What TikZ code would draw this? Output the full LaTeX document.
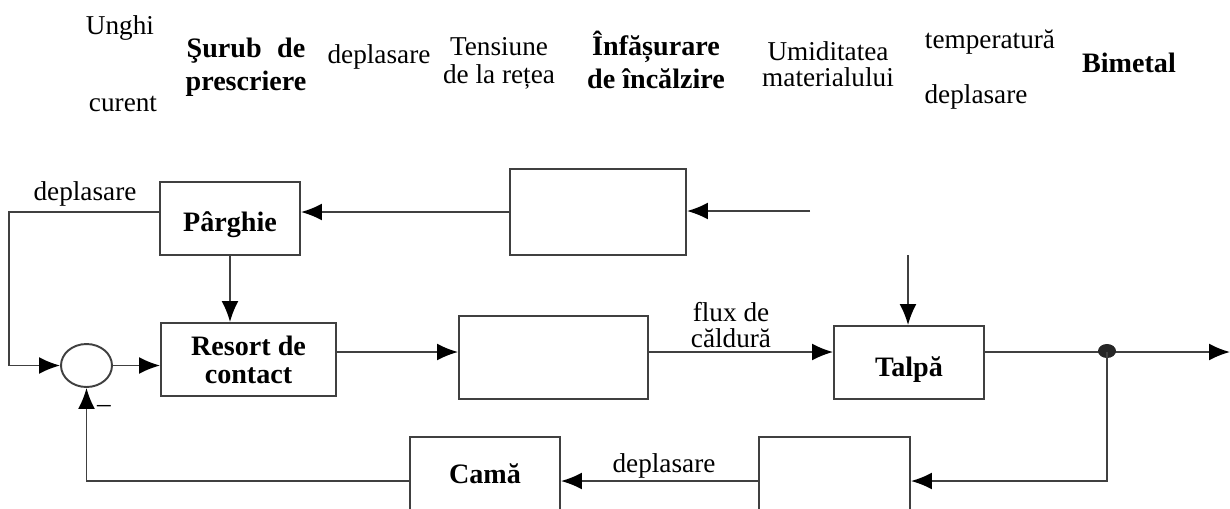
\documentclass[tikz,border=0pt]{standalone}
\usepackage{fontspec}
\setmainfont{Liberation Serif}
\usepackage{tikz}
\usetikzlibrary{arrows.meta, shapes.geometric, calc}

\tikzset{
	bloc/.style={draw=black!75, line width=1.1pt, inner sep=0pt},
	txt/.style={font=\fontsize{15.5}{16}\selectfont, align=center, inner sep=0pt},
	btxt/.style={font=\fontsize{16}{16}\selectfont\bfseries, align=center, inner sep=0pt},
	sag/.style={-{Latex[length=4.2mm,width=3.4mm,color=black]}, line width=1.1pt, draw=black!75},
	fir/.style={line width=1.1pt, draw=black!75}
}

\begin{document}
\begin{tikzpicture}[x=0.02cm, y=-0.02cm]
	\useasboundingbox (0,0) rectangle (1230,508);

	% etichetele de sus
	\node[txt] (lUnghi) at (120,28) {Unghi};
	\node[txt] (lCurent) at (123,104) {curent};
	\node[btxt, font=\fontsize{16}{18.7}\selectfont\bfseries] (lSurub) at (246,67) {Şurub\hspace{.3em} de\\prescriere};
	\node[txt] (lDepl) at (379,57) {deplasare};
	\node[txt, font=\fontsize{15.5}{15.9}\selectfont] (lTens) at (499,63) {Tensiune\\de la rețea};
	\node[btxt, font=\fontsize{16}{18.7}\selectfont\bfseries] (lInfas) at (656,60) {Înfășurare\\de încălzire};
	\node[txt, font=\fontsize{15.5}{15}\selectfont] (lUmid) at (828,64) {Umiditatea\\materialului};
	\node[txt] (lTemp) at (990,42) {temperatură};
	\node[txt] (lDepl2) at (976,97) {deplasare};
	\node[btxt] (lBimet) at (1129,63) {Bimetal};

	% blocurile
	\node[bloc, minimum width=2.8cm, minimum height=1.46cm, btxt, text height=0.64cm, text depth=0.12cm] (parg) at (230,218.5) {Pârghie};
	\node[bloc, minimum width=3.52cm, minimum height=1.72cm] (bimet) at (598,212) {};
	\node[bloc, minimum width=3.5cm, minimum height=1.46cm, btxt, font=\fontsize{16}{15.9}\selectfont\bfseries] (res) at (248.5,359.5) {Resort de\\contact};
	\node[bloc, minimum width=3.78cm, minimum height=1.66cm] (incalz) at (553.5,357.5) {};
	\node[bloc, minimum width=3.0cm, minimum height=1.46cm, btxt, text height=0.67cm, text depth=0.12cm] (talpa) at (909,362.5) {Talpă};
	\node[bloc, minimum width=3.02cm, minimum height=1.48cm] (conv) at (834.5,474) {};
	\node[bloc, minimum width=3.0cm, minimum height=1.48cm, btxt] (cama) at (485,474) {Camă};
	\node[bloc, ellipse, minimum width=1.02cm, minimum height=0.86cm] (sum) at (86.5,365.5) {};
	\node[txt] (minus) at (104,409) {–};

	\coordinate (inB) at (810,211);
	\coordinate (inT) at (908,255);
	\coordinate (jn) at (1107,352);
	\coordinate (out) at (1230,352);
	\coordinate (fb) at (1107,481);

	% legaturile
	\draw[sag] (inB) -- (inB -| bimet.east);
	\draw[sag] (bimet.west) -- (bimet.west -| parg.east);
	\draw[sag] (parg.west |- bimet.west) -- ++(-150,0) |- (sum.west);
	\node[txt] (lDepl3) at (85,194) {deplasare};
	\draw[sag] (parg.south) -- (parg.south |- res.north);
	\draw[sag] (sum.east) -- (sum.east -| res.west);
	\draw[sag] (res.east |- jn) -- (incalz.west |- jn);
	\draw[sag] (incalz.east |- jn) -- (talpa.west |- jn);
	\node[txt, font=\fontsize{15.5}{15.3}\selectfont] (lFlux) at (731,325) {flux de\\căldură};
	\draw[sag] (inT) -- (inT |- talpa.north);
	\draw[sag] (talpa.east |- jn) -- (out);
	\fill[black!85] ($(jn)+(0,-1)$) ellipse [x radius=0.18cm, y radius=0.14cm];
	\draw[sag] (jn) -- (fb) -- (fb -| conv.east);
	\draw[sag] (conv.west |- fb) -- (cama.east |- fb);
	\node[txt] (lDepl4) at (664,466) {deplasare};
	\draw[sag] (cama.west |- fb) -| (sum.south);
\end{tikzpicture}
\end{document}
